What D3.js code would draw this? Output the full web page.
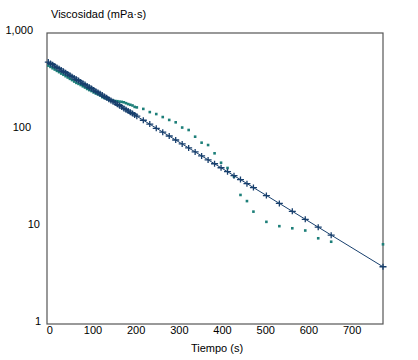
<!DOCTYPE html>
<html><head><meta charset="utf-8">
<script src="https://cdn.jsdelivr.net/npm/d3@7"></script>
<style>html,body{margin:0;padding:0;background:#fff;}svg{display:block;}text{font-family:"Liberation Sans",Arial,sans-serif;font-size:11px;fill:#000;}</style>
</head><body><svg id="c" width="418" height="360"></svg>
<script>
// Measured series (navy "+" markers), time in s, viscosity in mPa·s
const crossTimes = [0,5,10,15,20,25,30,35,40,45,50,55,60,65,70,75,80,85,90,95,100,105,110,115,120,125,130,135,140,145,150,155,160,165,170,175,180,185,190,195,200,
  205,220,235,250,265,280,295,310,325,340,355,370,385,400,415,430,445,460,475,505,535,565,595,625,655,775];
const crossValues = [501,486,471,456,442,429,415,403,390,378,366,355,344,333,323,313,303,294,285,276,268,259,251,244,236,229,222,215,208,202,196,190,184,178,173,167,162,157,152,148,143,
  139,126,115,104,95,86.7,78.9,71.8,65.3,59.4,54.1,49.2,44.9,40.8,37.2,33.8,30.8,28.0,25.5,21.1,17.5,14.5,12.0,9.95,8.24,3.89];
// Second series (teal squares)
const sqTimes = crossTimes;
const sqValues = [461,447,433,420,407,395,382,371,359,348,337,327,316,306,299,291,282,274,265,258,252,244,238,233,227,218,214,210,206,202,201,199,198,196,195,193,189,185,182,179,173,
  171,165,153,146,136,127,120,106,100,85.3,74.0,70.0,57.5,46.0,40.6,33.0,21.4,18.5,14.4,11.3,10.2,9.7,9.2,7.65,7.05,6.63];
// Fitted line endpoints
const fitTimes = [0,775];
const fitValues = [501,3.89];
// Axes
const xTicks = [0,100,200,300,400,500,600,700];
const yTicks = [1,10,100,1000];
const yTickLabels = ["1","10","100","1,000"];
const yTitle = "Viscosidad (mPa\u00b7s)";
const xTitle = "Tiempo (s)";

const svg = d3.select("#c");
const L = 47, R = 383, T = 33, B = 324;
const x = d3.scaleLinear().domain([-3, 775]).range([L, R]);
const y = d3.scaleLog().domain([1, 1000]).range([B, T]);

const navy = "#173f6d", teal = "#1d7f79";

// frame
svg.append("rect").attr("x", L).attr("y", T).attr("width", R - L).attr("height", B - T)
  .attr("fill", "none").attr("stroke", "#555").attr("stroke-width", 1.2);

// y axis labels
const yAxis = d3.axisLeft(y).tickValues(yTicks).tickSize(0)
  .tickFormat((d, i) => yTickLabels[i]);
const yDx = {1: 0, 10: -1, 100: -10, 1000: -8};
const gy = svg.append("g").attr("transform", `translate(${L - 6},0)`).call(yAxis);
gy.select(".domain").remove();
gy.selectAll("text").attr("font-size", 11).attr("font-family", null).attr("dy", "0.05em")
  .attr("x", d => yDx[d]).attr("fill", "#000");

// x axis labels
const xAxis = d3.axisBottom(x).tickValues(xTicks).tickSize(0).tickFormat(d3.format("d"));
const gx = svg.append("g").attr("transform", `translate(1,${B + 2})`).call(xAxis);
gx.select(".domain").remove();
gx.selectAll("text").attr("font-size", 11).attr("font-family", null).attr("y", 0).attr("dy", "0.71em").attr("fill", "#000");

// titles
svg.append("text").attr("x", 51).attr("y", 18).text(yTitle);
svg.append("text").attr("x", (L + R) / 2 + 2).attr("y", 352).attr("text-anchor", "middle").text(xTitle);

// teal squares
svg.append("g").selectAll("rect").data(sqTimes.map((t, i) => [t, sqValues[i]])).join("rect")
  .attr("x", d => x(d[0]) - 1.3).attr("y", d => y(d[1]) - 1.3)
  .attr("width", 2.6).attr("height", 2.6).attr("fill", teal);

// fitted line
svg.append("path").datum(fitTimes.map((t, i) => [t, fitValues[i]]))
  .attr("d", d3.line().x(d => x(d[0])).y(d => y(d[1])))
  .attr("fill", "none").attr("stroke", navy).attr("stroke-width", 1);

// crosses
svg.append("g").selectAll("path").data(crossTimes.map((t, i) => [t, crossValues[i]])).join("path")
  .attr("transform", d => `translate(${x(d[0])},${y(d[1])})`)
  .attr("d", "M-3.5,0H3.5M0,-3V3")
  .attr("stroke", navy).attr("stroke-width", 1.3).attr("fill", "none");
</script></body></html>
